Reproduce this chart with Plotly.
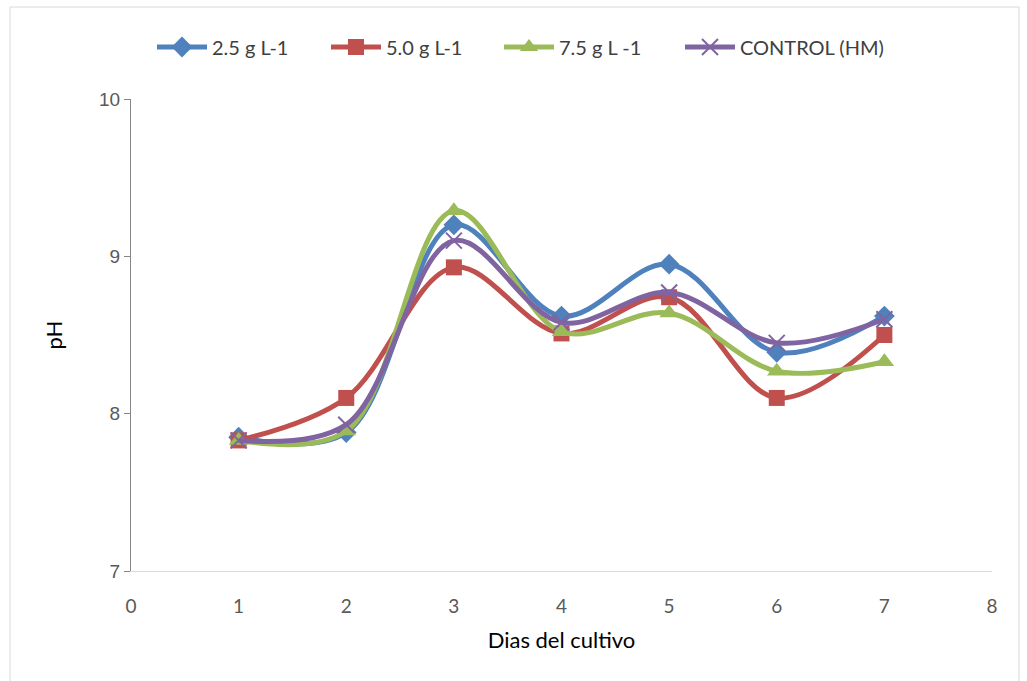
import plotly.graph_objects as go

days = [1, 2, 3, 4, 5, 6, 7]
ph_25 = [7.85, 7.88, 9.20, 8.62, 8.95, 8.39, 8.62]
ph_50 = [7.83, 8.10, 8.93, 8.51, 8.74, 8.10, 8.50]
ph_75 = [7.83, 7.89, 9.29, 8.52, 8.64, 8.27, 8.33]
ph_ctrl = [7.83, 7.93, 9.10, 8.58, 8.77, 8.45, 8.60]

series = [
    ("2.5 g L-1", ph_25, "#4F81BD", "diamond", 16),
    ("5.0 g L-1", ph_50, "#C0504D", "square", 16),
    ("7.5 g L -1", ph_75, "#9BBB59", "triangle-up", 17),
    ("CONTROL (HM)", ph_ctrl, "#8064A2", "x-thin", 16),
]
legend_ids = ["legend", "legend2", "legend3", "legend4"]
legend_px = [152, 326, 499, 680]

font_fam = "Lato, Open Sans, sans-serif"
W, H = 1027, 681
l, r, t, b = 131, 35, 99, 110
pw, ph = W - l - r, H - t - b

def px2paper_x(px):
    return (px - l) / pw

def px2paper_y(py):
    return (H - b - py) / ph

fig = go.Figure()
for (name, vals, col, sym, sz), lid in zip(series, legend_ids):
    marker = dict(symbol=sym, size=sz, color=col)
    if sym == "x-thin":
        marker["line"] = dict(color=col, width=2)
    fig.add_trace(go.Scatter(
        x=days, y=vals, name=name, mode="lines+markers",
        line=dict(color=col, width=5, shape="spline", smoothing=1),
        marker=marker, legend=lid,
    ))

legend_layout = {}
for lid, pxx in zip(legend_ids, legend_px):
    legend_layout[lid] = dict(
        orientation="h", x=px2paper_x(pxx), xanchor="left", y=px2paper_y(47), yanchor="middle",
        font=dict(size=20, color="#404040"), itemwidth=50, itemsizing="trace",
        bgcolor="rgba(0,0,0,0)",
    )

fig.update_layout(
    width=W, height=H,
    margin=dict(l=l, r=r, t=t, b=b),
    paper_bgcolor="white", plot_bgcolor="white",
    font=dict(family=font_fam, color="#595959", size=18),
    showlegend=True,
    xaxis=dict(range=[0, 8], tickvals=list(range(0, 9)), showgrid=False, zeroline=False,
               showline=True, linecolor="#d9d9d9", linewidth=1, ticks="",
               ticklabelstandoff=18,
               title=dict(text="Dias del cultivo", font=dict(size=22, color="#000000"), standoff=16),
               tickfont=dict(size=19, color="#595959")),
    yaxis=dict(range=[7, 10], tickvals=[7, 8, 9, 10], showgrid=False, zeroline=False,
               showline=True, linecolor="#868686", linewidth=1, ticks="outside", ticklen=6,
               tickcolor="#868686",
               title=dict(text="pH", font=dict(size=22, color="#000000"), standoff=30),
               tickfont=dict(family="Liberation Sans, sans-serif", size=19, color="#595959")),
    shapes=[dict(type="rect", xref="paper", yref="paper",
                 x0=px2paper_x(10), x1=px2paper_x(1019), y0=px2paper_y(700), y1=px2paper_y(7),
                 line=dict(color="#d9d9d9", width=1), fillcolor="rgba(0,0,0,0)", layer="below")],
    **legend_layout,
)

fig.write_html("out.html")
